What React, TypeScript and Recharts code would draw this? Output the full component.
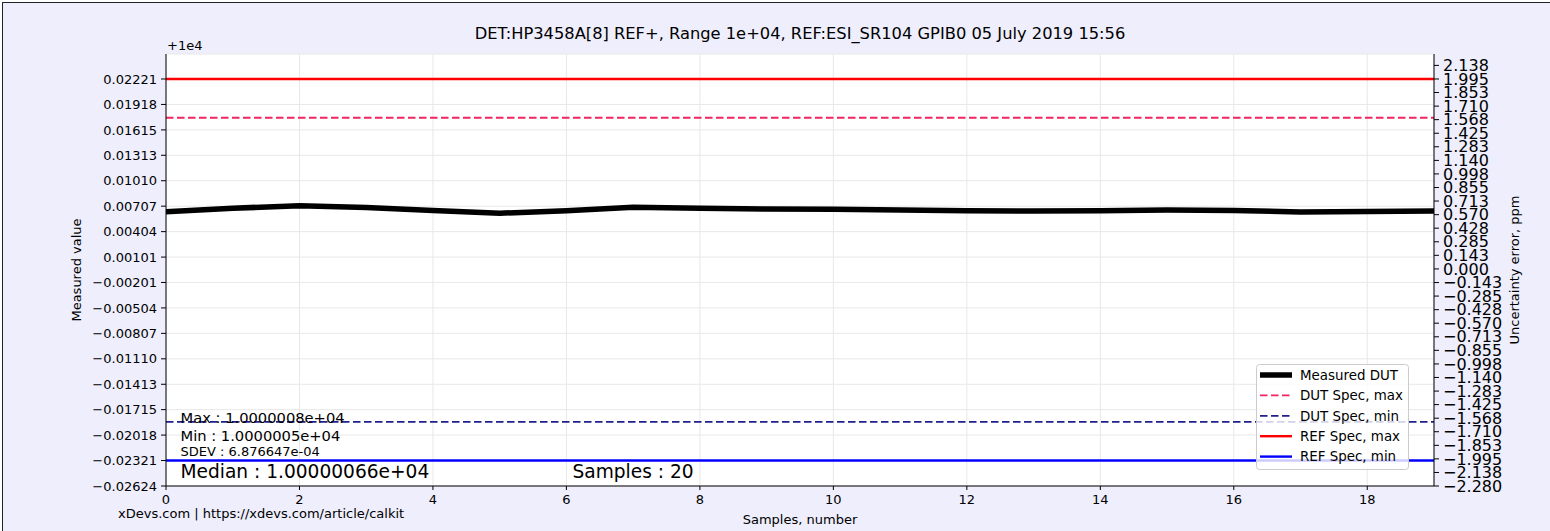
import React from "react";
import { LineChart, Line, XAxis, YAxis, CartesianGrid, ReferenceLine } from "recharts";

// samples 0..19, values are offsets from 1e4
const samples = [0, 1, 2, 3, 4, 5, 6, 7, 8, 9, 10, 11, 12, 13, 14, 15, 16, 17, 18, 19];
const measured = [
  0.00642, 0.00682, 0.00713, 0.00692, 0.00656, 0.00623, 0.00653, 0.00694, 0.00682, 0.00674,
  0.0067, 0.00662, 0.00653, 0.0065, 0.00653, 0.00662, 0.00656, 0.00638, 0.00644, 0.0065,
];

const refMax = 0.02221;
const refMin = -0.02321;
const dutMax = 0.0176;
const dutMin = -0.0186;

const xTicks = [0, 2, 4, 6, 8, 10, 12, 14, 16, 18];
const leftTicks = [
  -0.02624, -0.02321, -0.02018, -0.01715, -0.01413, -0.0111, -0.00807, -0.00504, -0.00201,
  0.00101, 0.00404, 0.00707, 0.0101, 0.01313, 0.01615, 0.01918, 0.02221,
];
const rightTicks = [
  -2.28, -2.138, -1.995, -1.853, -1.71, -1.568, -1.425, -1.283, -1.14, -0.998, -0.855, -0.713,
  -0.57, -0.428, -0.285, -0.143, 0, 0.143, 0.285, 0.428, 0.57, 0.713, 0.855, 0.998, 1.14, 1.283,
  1.425, 1.568, 1.71, 1.853, 1.995, 2.138,
];

const legendItems = [
  { name: "Measured DUT", color: "#000000", width: 5.5, dash: "" },
  { name: "DUT Spec, max", color: "#f0245e", width: 1.8, dash: "7.5 3.5" },
  { name: "DUT Spec, min", color: "#20208c", width: 1.8, dash: "7.5 3.5" },
  { name: "REF Spec, max", color: "#ff0000", width: 2.4, dash: "" },
  { name: "REF Spec, min", color: "#0000ff", width: 2.4, dash: "" },
];

const data = samples.map((s, i) => ({ sample: s, measured: measured[i] }));

const FONT = "DejaVu Sans";
const minus = (s: string) => s.replace("-", "\u2212");

export default function App() {
  return (
    <div style={{ position: "absolute", left: 0, top: 0, width: 1550, height: 531, background: "#fff", overflow: "hidden", fontFamily: FONT }}>
      <div style={{ position: "absolute", left: 2, top: 2, width: 1548, height: 529, background: "#eeeefc", borderTop: "1px solid #222", borderLeft: "1px solid #222" }} />
      <div style={{ position: "absolute", left: 0, top: 0 }}>
        <LineChart width={1550} height={531} data={data} margin={{ top: 54, right: 0, bottom: 0, left: 0 }}>
          <CartesianGrid xAxisId="bottom" yAxisId="left" fill="#ffffff" stroke="#e8e8e8" strokeWidth={1} />
          <XAxis
            xAxisId="bottom"
            dataKey="sample"
            type="number"
            domain={[0, 19]}
            allowDataOverflow
            ticks={xTicks}
            interval={0}
            height={45}
            tickSize={4}
            tickMargin={5}
            axisLine={{ stroke: "#000" }}
            tickLine={{ stroke: "#000" }}
            tick={{ fill: "#000", fontSize: 13, fontFamily: FONT }}
          />
          <XAxis xAxisId="top" orientation="top" type="number" domain={[0, 19]} height={0} tick={false} tickLine={false} axisLine={{ stroke: "#000" }} />
          <YAxis
            yAxisId="left"
            type="number"
            domain={[-0.02624, 0.025186]}
            allowDataOverflow
            ticks={leftTicks}
            interval={0}
            width={166}
            tickSize={5}
            tickMargin={4}
            axisLine={{ stroke: "#000" }}
            tickLine={{ stroke: "#000" }}
            tick={{ fill: "#000", fontSize: 13, fontFamily: FONT }}
            tickFormatter={(v: number) => minus(v.toFixed(5))}
          />
          <YAxis
            yAxisId="right"
            orientation="right"
            type="number"
            domain={[-2.28, 2.2575]}
            allowDataOverflow
            ticks={rightTicks}
            interval={0}
            width={116}
            tickSize={5}
            tickMargin={4}
            axisLine={{ stroke: "#000" }}
            tickLine={{ stroke: "#000" }}
            tick={{ fill: "#000", fontSize: 16, fontFamily: FONT }}
            tickFormatter={(v: number) => minus(v.toFixed(3))}
          />
          <ReferenceLine xAxisId="bottom" yAxisId="left" y={refMax} stroke={legendItems[3].color} strokeWidth={legendItems[3].width} />
          <ReferenceLine xAxisId="bottom" yAxisId="left" y={dutMax} stroke={legendItems[1].color} strokeWidth={legendItems[1].width} strokeDasharray={legendItems[1].dash} />
          <ReferenceLine xAxisId="bottom" yAxisId="left" y={dutMin} stroke={legendItems[2].color} strokeWidth={legendItems[2].width} strokeDasharray={legendItems[2].dash} />
          <ReferenceLine xAxisId="bottom" yAxisId="left" y={refMin} stroke={legendItems[4].color} strokeWidth={legendItems[4].width} />
          <Line
            xAxisId="bottom"
            yAxisId="left"
            type="linear"
            dataKey="measured"
            stroke="#000"
            strokeWidth={5.5}
            dot={false}
            isAnimationActive={false}
          />
        </LineChart>
      </div>
      <svg width={1550} height={531} style={{ position: "absolute", left: 0, top: 0, pointerEvents: "none" }} fontFamily={FONT}>
        <text x={800} y={39} textAnchor="middle" fontSize={16.3} fill="#000">
          DET:HP3458A[8] REF+, Range 1e+04, REF:ESI_SR104 GPIB0 05 July 2019 15:56
        </text>
        <text x={167} y={50} fontSize={13} fill="#000">+1e4</text>
        <text x={81} y={270} fontSize={13} fill="#000" textAnchor="middle" transform="rotate(-90 81 270)">Measured value</text>
        <text x={1519} y={270} fontSize={13} fill="#000" textAnchor="middle" transform="rotate(-90 1519 270)">Uncertainty error, ppm</text>
        <text x={800} y={524} fontSize={13} fill="#000" textAnchor="middle">Samples, number</text>
        <text x={118} y={518} fontSize={13} fill="#000">xDevs.com | https://xdevs.com/article/calkit</text>

        <text x={180.5} y={423} fontSize={14.7} fill="#000">Max : 1.0000008e+04</text>
        <text x={180.5} y={441} fontSize={14.7} fill="#000">Min : 1.0000005e+04</text>
        <text x={180.5} y={456} fontSize={13} fill="#000">SDEV : 6.876647e-04</text>
        <text x={180.5} y={478} fontSize={18.6} fill="#000">Median : 1.00000066e+04</text>
        <text x={572.5} y={478} fontSize={18.6} fill="#000">Samples : 20</text>

        <rect x={1256.5} y={364.5} width={152} height={105} rx={3} fill="#ffffff" fillOpacity={0.8} stroke="#cccccc" />
        {legendItems.map((it, i) => {
          const cy = 375 + i * 20.4;
          return (
            <g key={it.name}>
              <line x1={1260} x2={1292} y1={cy} y2={cy} stroke={it.color} strokeWidth={it.width} strokeDasharray={it.dash || undefined} />
              <text x={1300} y={cy + 4.8} fontSize={13.4} fill="#000">{it.name}</text>
            </g>
          );
        })}
      </svg>
    </div>
  );
}
